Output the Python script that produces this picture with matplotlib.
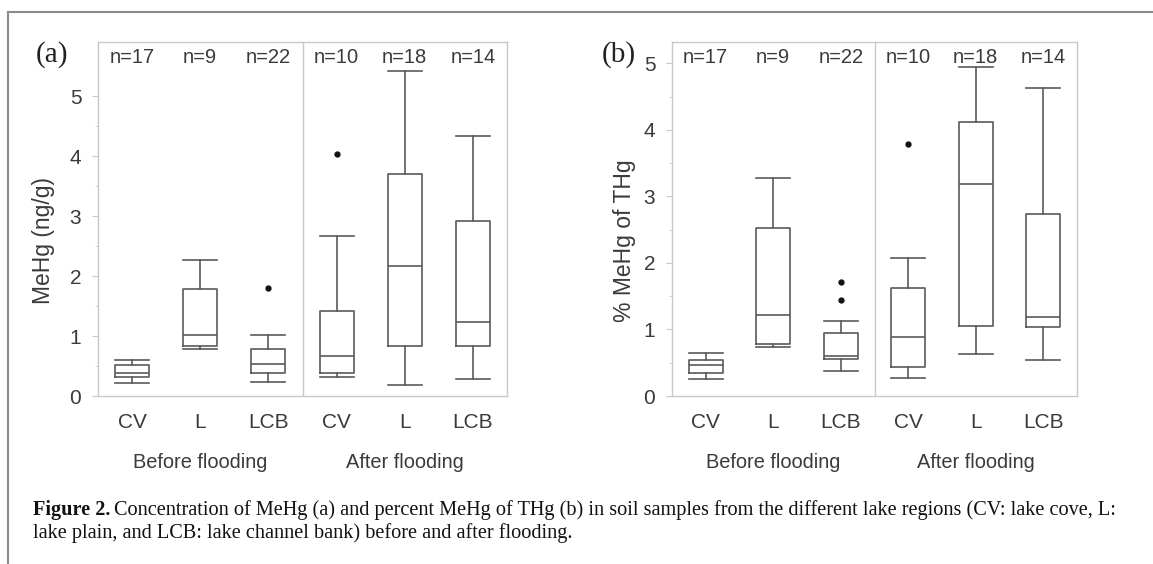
import matplotlib
matplotlib.use('Agg')
import matplotlib.pyplot as plt
from matplotlib.lines import Line2D

categories = ['CV', 'L', 'LCB', 'CV', 'L', 'LCB']
groups = ['Before flooding', 'After flooding']
n_labels = ['n=17', 'n=9', 'n=22', 'n=10', 'n=18', 'n=14']

# (a) MeHg (ng/g): whisker low, q1, median, q3, whisker high, outliers
mehg_wlo = [0.21, 0.78, 0.23, 0.31, 0.18, 0.28]
mehg_q1 = [0.32, 0.84, 0.39, 0.39, 0.83, 0.84]
mehg_med = [0.39, 1.02, 0.53, 0.66, 2.17, 1.24]
mehg_q3 = [0.52, 1.78, 0.79, 1.41, 3.70, 2.92]
mehg_whi = [0.60, 2.27, 1.01, 2.67, 5.42, 4.34]
mehg_out = [[], [], [1.80], [4.04], [], []]

# (b) % MeHg of THg
pct_wlo = [0.26, 0.73, 0.38, 0.27, 0.63, 0.54]
pct_q1 = [0.34, 0.78, 0.55, 0.43, 1.05, 1.03]
pct_med = [0.46, 1.21, 0.60, 0.88, 3.18, 1.19]
pct_q3 = [0.54, 2.53, 0.95, 1.63, 4.12, 2.73]
pct_whi = [0.64, 3.28, 1.12, 2.08, 4.95, 4.63]
pct_out = [[], [], [1.71, 1.44], [3.79], [], []]

W, H = 1153, 564
frame_c = '#c8c8c8'
line_c = '#5a5a5a'
text_c = '#3a3a3a'
sans = ['Liberation Sans', 'DejaVu Sans']
serif = ['Liberation Serif', 'DejaVu Serif']


def make_stats(wlo, q1, med, q3, whi, out):
    stats = []
    for i in range(len(med)):
        stats.append(dict(whislo=wlo[i], q1=q1[i], med=med[i], q3=q3[i],
                          whishi=whi[i], fliers=out[i]))
    return stats


def draw_panel(ax, stats, ymax, ylabel, label_x):
    pos = list(range(1, len(stats) + 1))
    lp = dict(color=line_c, linewidth=1.2)
    ax.bxp(stats, positions=pos, widths=0.5, showfliers=True,
           boxprops=lp, whiskerprops=lp, capprops=lp, medianprops=lp,
           capwidths=0.5,
           flierprops=dict(marker='o', markersize=3.5, markerfacecolor='#111111',
                           markeredgecolor='#111111', linestyle='none'))
    ax.set_xlim(0.5, 6.5)
    ax.set_ylim(0, ymax)
    ax.axvline(3.5, color=frame_c, linewidth=1.0)
    for s in ax.spines.values():
        s.set_color(frame_c)
        s.set_linewidth(1.0)
    ax.set_yticks([0, 1, 2, 3, 4, 5])
    ax.set_yticks([0.5, 1.5, 2.5, 3.5, 4.5], minor=True)
    ax.tick_params(axis='y', which='major', length=4, color=frame_c,
                   labelsize=15, labelcolor=text_c, pad=8)
    ax.tick_params(axis='y', which='minor', length=2, color=frame_c)
    ax.set_xticks(pos)
    ax.set_xticklabels(categories, fontsize=15, color=text_c, family=sans)
    ax.tick_params(axis='x', length=0, pad=12)
    for lab in ax.get_yticklabels():
        lab.set_family(sans)
    ax.set_ylabel(ylabel, fontsize=16.5, color=text_c, family=sans)
    ax.yaxis.set_label_coords(label_x, 0.44)
    for p, t in zip(pos, n_labels):
        ax.text(p, 0.955, t, transform=ax.get_xaxis_transform(), ha='center',
                va='center', fontsize=14.5, color=text_c, family=sans)
    ax.text(2, -0.188, groups[0], transform=ax.get_xaxis_transform(), ha='center',
            va='center', fontsize=14.4, color=text_c, family=sans)
    ax.text(5, -0.188, groups[1], transform=ax.get_xaxis_transform(), ha='center',
            va='center', fontsize=14.4, color=text_c, family=sans)


fig = plt.figure(figsize=(W / 100, H / 100), dpi=100)
ax1 = fig.add_axes([98 / W, 1 - 396 / H, 409 / W, 354 / H])
ax2 = fig.add_axes([672 / W, 1 - 396 / H, 405 / W, 354 / H])

draw_panel(ax1, make_stats(mehg_wlo, mehg_q1, mehg_med, mehg_q3, mehg_whi, mehg_out),
           5.9, 'MeHg (ng/g)', -0.105)
draw_panel(ax2, make_stats(pct_wlo, pct_q1, pct_med, pct_q3, pct_whi, pct_out),
           5.32, '% MeHg of THg', -0.09)

# panel tags
fig.text(36 / W, 1 - 55 / H, '(a)', fontsize=21, color='#222222', family=serif,
         va='center', ha='left')
fig.text(602 / W, 1 - 55 / H, '(b)', fontsize=21, color='#222222', family=serif,
         va='center', ha='left')

# outer frame lines
fig.add_artist(Line2D([8 / W, 1.0], [1 - 12 / H, 1 - 12 / H],
                      transform=fig.transFigure, color='#8a8a8a', linewidth=1.5))
fig.add_artist(Line2D([8 / W, 8 / W], [1 - 12 / H, 0.0],
                      transform=fig.transFigure, color='#8a8a8a', linewidth=1.5))

# caption
cap_x = 33 / W
cap_fs = 14.6
t_bold = fig.text(cap_x, 1 - 510 / H, 'Figure 2.', fontsize=cap_fs, fontweight='bold',
                  family=serif, color='#111111', va='center')
fig.canvas.draw()
bb = t_bold.get_window_extent(fig.canvas.get_renderer())
fig.text(bb.x1 / W + 4 / W, 1 - 510 / H,
         'Concentration of MeHg (a) and percent MeHg of THg (b) in soil samples from the different lake regions (CV: lake cove, L:',
         fontsize=cap_fs, family=serif, color='#111111', va='center')
fig.text(cap_x, 1 - 533 / H,
         'lake plain, and LCB: lake channel bank) before and after flooding.',
         fontsize=cap_fs, family=serif, color='#111111', va='center')

fig.savefig('out.png', dpi=100)
